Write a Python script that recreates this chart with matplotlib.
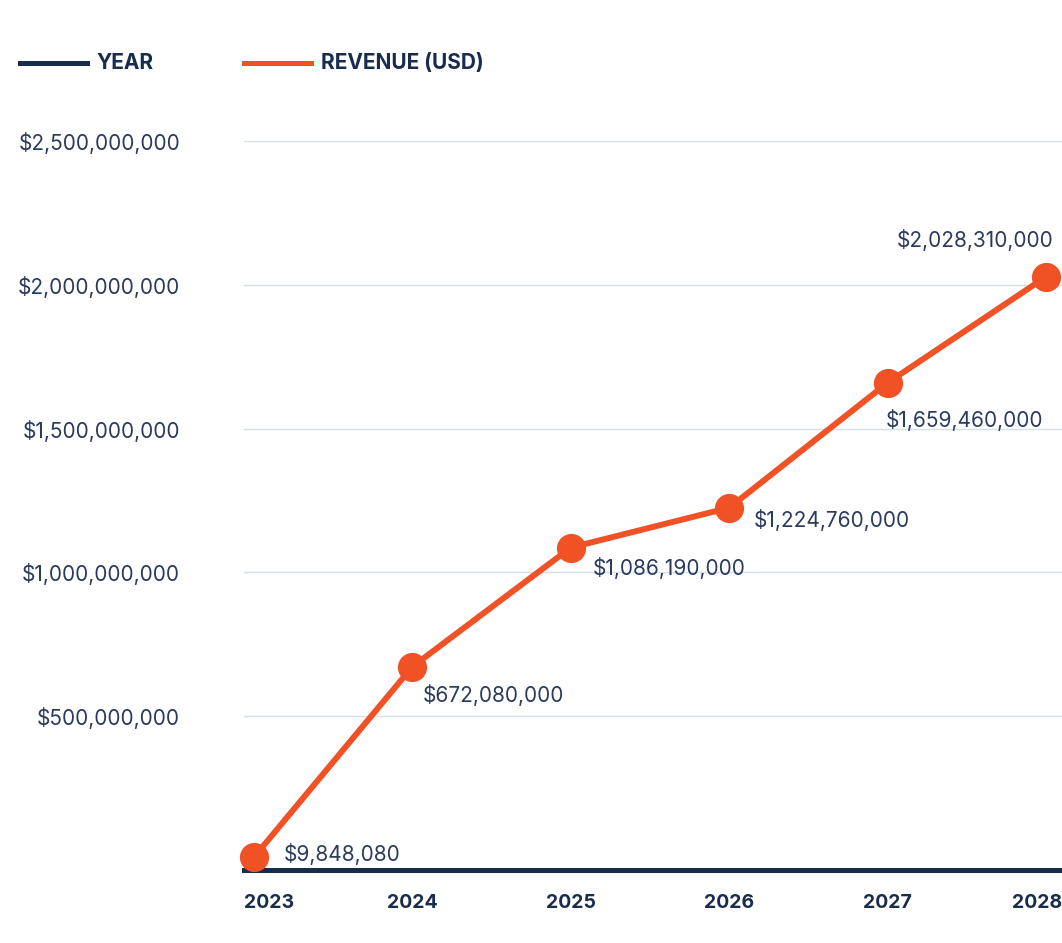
import matplotlib
matplotlib.use("Agg")
import matplotlib.pyplot as plt
from matplotlib.lines import Line2D
from matplotlib.ticker import FuncFormatter

years = ["2023", "2024", "2025", "2026", "2027", "2028"]
revenue = [9848080, 672080000, 1086190000, 1224760000, 1659460000, 2028310000]
y_ticks = [500000000, 1000000000, 1500000000, 2000000000, 2500000000]

ORANGE = "#F05125"
NAVY = "#182C4E"
TEXT = "#2A3B5C"
GRID = "#D6E0E8"
FONT = ["Inter", "DejaVu Sans"]

plt.rcParams["font.family"] = FONT

W, H = 1062, 943
fig = plt.figure(figsize=(W / 100, H / 100), dpi=100)
ax = fig.add_axes([244 / W, 1 - 870 / H, (1062 - 244) / W, (870 - 141) / H])

x = list(range(len(years)))
ax.plot(x, revenue, color=ORANGE, lw=4.3, marker="o", ms=20,
        solid_capstyle="round", clip_on=False, zorder=3)

ax.set_xlim(-0.063, 5.10)
ax.set_ylim(-35000000, 2500000000)

ax.set_yticks(y_ticks)
ax.yaxis.set_major_formatter(FuncFormatter(lambda v, p: f"${v:,.0f}"))
ax.tick_params(axis="y", length=0, pad=46, labelsize=15, labelcolor=TEXT)
ax.grid(axis="y", color=GRID, lw=1)
ax.set_axisbelow(True)

for s in ["top", "right", "left"]:
    ax.spines[s].set_visible(False)
ax.spines["bottom"].set_color(NAVY)
ax.spines["bottom"].set_linewidth(3.6)

# Year labels under the baseline; outer ones hug the axis edges
ax.set_xticks([])
for i, yr in enumerate(years):
    ha = "left" if i == 0 else ("right" if i == len(years) - 1 else "center")
    xpos = ax.get_xlim()[0] if i == 0 else (ax.get_xlim()[1] if i == len(years) - 1 else i)
    ax.text(xpos, -0.045, yr, transform=ax.get_xaxis_transform(), ha=ha, va="center",
            fontsize=14, fontweight="bold", color=NAVY)

# Value annotations next to each point
offsets = [(30, 3, "left"), (10, -28, "left"), (22, -20, "left"),
           (24, -12, "left"), (-2, -37, "left"), (7, 37, "right")]
for i, (v, (dx, dy, ha)) in enumerate(zip(revenue, offsets)):
    ax.annotate(f"${v:,.0f}", (i, v), xytext=(dx, dy), textcoords="offset pixels",
                ha=ha, va="center", fontsize=15, color=TEXT)

# Legend row
ly = 1 - 63 / H
fig.add_artist(Line2D([20 / W, 87 / W], [ly, ly], color=NAVY, lw=3.6))
fig.text(96 / W, ly, "YEAR", ha="left", va="center", fontsize=15, fontweight="bold", color=NAVY)
fig.add_artist(Line2D([244 / W, 311 / W], [ly, ly], color=ORANGE, lw=3.6))
fig.text(321 / W, ly, "REVENUE (USD)", ha="left", va="center", fontsize=15, fontweight="bold", color=NAVY)

fig.savefig("out.png", dpi=100, facecolor="white")
